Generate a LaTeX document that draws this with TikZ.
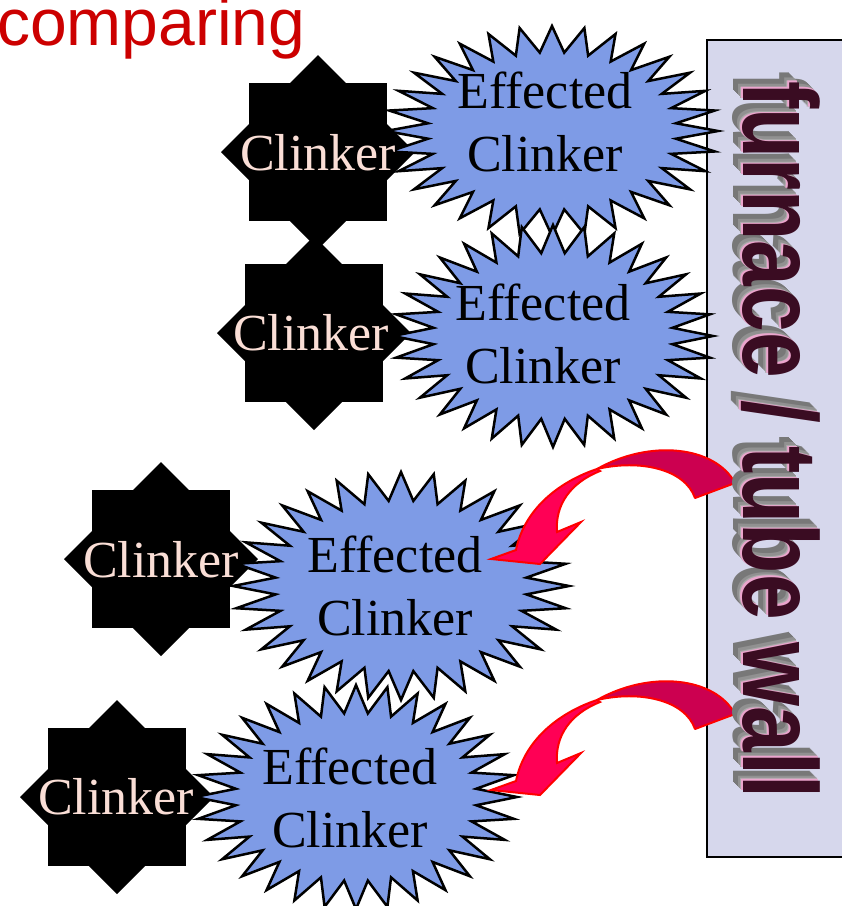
\documentclass[tikz,border=0pt]{standalone}
\usepackage{fontspec}
\setmainfont{Liberation Serif}
\newfontfamily\lsans{Liberation Sans}
\definecolor{burstblue}{RGB}{126,155,230}
\definecolor{clinkpink}{RGB}{250,222,214}
\definecolor{walllav}{RGB}{214,215,236}
\definecolor{arrback}{RGB}{204,0,80}
\definecolor{arrfront}{RGB}{255,0,85}
\definecolor{titlered}{RGB}{204,0,0}
\definecolor{wallface}{RGB}{58,12,34}
\definecolor{wallgray}{RGB}{120,120,120}
\definecolor{wallgraym}{RGB}{145,145,145}
\definecolor{wallgrayl}{RGB}{170,170,170}
\definecolor{wallpink}{RGB}{235,165,205}
\tikzset{
 burst/.style={fill=burstblue, draw=black, line width=2.5pt, line join=miter},
 clinkshape/.style={fill=black},
 efftext/.style={inner sep=0pt, align=center, font=\fontsize{52}{63}\selectfont, text=black},
 clinktext/.style={inner sep=0pt, font=\fontsize{52}{63}\selectfont, text=clinkpink},
 wallbox/.style={fill=walllav, draw=black, line width=2.5pt},
 arrowback/.style={fill=arrback, draw=red, line width=2pt, line join=round},
 arrowfront/.style={fill=arrfront, draw=red, line width=2pt, line join=miter},
 titletext/.style={inner sep=0pt, anchor=base west, font=\lsans\fontsize{66}{70}\selectfont, text=titlered},
 walltextstyle/.style={rotate=-90, anchor=base west, inner sep=0pt, font=\lsans\bfseries\fontsize{106}{106}\selectfont},
}
\newcommand{\clinkstar}[2]{%
 \fill[clinkshape] ({#1-69},{#2-69}) rectangle ({#1+69},{#2+69});
 \fill[clinkshape] (#1,{#2-97}) -- ({#1+97},#2) -- (#1,{#2+97}) -- ({#1-97},#2) -- cycle;
}
\newcommand{\burstshape}[4]{%
 \filldraw[burst] ({#1},{#2-#4}) \foreach \i in {1,...,32}{ -- ({#1+0.75*#3*cos(90+\i*11.25-5.625)},{#2-0.75*#4*sin(90+\i*11.25-5.625)}) -- ({#1+#3*cos(90+\i*11.25)},{#2-#4*sin(90+\i*11.25)}) } -- cycle;
}
\newcommand{\curvedarrow}[1]{%
 \begin{scope}[shift={(0,#1)}]
 \filldraw[arrowback] (735,483) .. controls (715,446) and (650,439) .. (597,469) .. controls (640,459) and (685,469) .. (695,498) -- cycle;
 \filldraw[arrowfront] (597,469) .. controls (558,482) and (524,510) .. (516,550) -- (491,559) -- (540,564) -- (581,522) -- (557,532) .. controls (555,505) and (570,483) .. (600,471) -- cycle;
 \end{scope}
}
\newcommand{\walllayer}[3]{%
 \node[walltextstyle, text=#3] at ({743-#1},{81-#2}) {\scalebox{0.775}[1]{furnace / tube wall}};
}
\begin{document}
\begin{tikzpicture}[x=1pt,y=-1pt]
\useasboundingbox (0,0) rectangle (842,906);
\fill[white] (0,0) rectangle (842,906);
% wall
\draw[wallbox] (707,40) rectangle (870,857);
% clinker stars
\clinkstar{318}{152}
\clinkstar{314}{333}
\clinkstar{161}{559}
\clinkstar{117}{797}
% bursts
\burstshape{552}{131}{166}{105}
\burstshape{553}{336}{160}{111}
\burstshape{401}{586}{168}{114}
\burstshape{356}{797}{161}{112}
% arrows
\curvedarrow{0}
\curvedarrow{231}
% wall text with extrusion
\foreach \d in {10,9,8,7,6} { \walllayer{\d}{\d}{wallgray} }
\foreach \d in {5,4,3} { \walllayer{\d}{\d}{wallgraym} }
\walllayer{2.2}{2.2}{wallgrayl}
\walllayer{1.3}{1.3}{wallpink}
\node[walltextstyle, text=wallface] (walllabel) at (743,81) {\scalebox{0.775}[1]{furnace / tube wall}};
% texts
\node[efftext] (eff1) at (545,122) {Effected\\Clinker};
\node[efftext] (eff2) at (543,334) {Effected\\Clinker};
\node[efftext] (eff3) at (395,586) {Effected\\Clinker};
\node[efftext] (eff4) at (350,798) {Effected\\Clinker};
\node[clinktext] (cl1) at (318,153) {Clinker};
\node[clinktext] (cl2) at (311,333) {Clinker};
\node[clinktext] (cl3) at (161,560) {Clinker};
\node[clinktext] (cl4) at (116,797) {Clinker};
\node[titletext] (title) at (-3,45) {comparing};
\end{tikzpicture}
\end{document}
